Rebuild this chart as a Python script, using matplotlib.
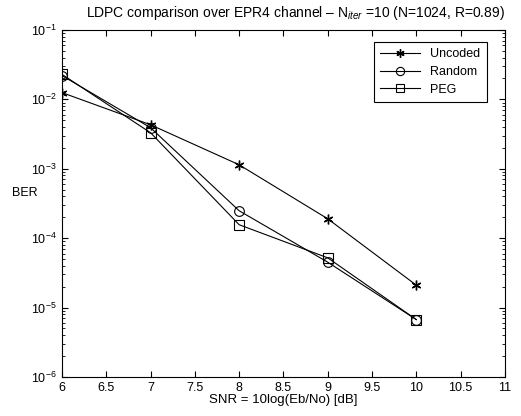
import matplotlib
matplotlib.use("Agg")
import matplotlib.pyplot as plt
from matplotlib.ticker import LogLocator, NullFormatter, MultipleLocator

plt.rcParams['font.family'] = ['Liberation Sans', 'DejaVu Sans']
plt.rcParams['mathtext.fontset'] = 'custom'
plt.rcParams['mathtext.rm'] = 'Liberation Sans'
plt.rcParams['mathtext.it'] = 'Liberation Sans:italic'
plt.rcParams['font.size'] = 9

snr = [6, 7, 8, 9, 10]
uncoded = [1.25e-2, 4.3e-3, 1.14e-3, 1.9e-4, 2.1e-5]
random_ = [2.2e-2, 3.9e-3, 2.48e-4, 4.5e-5, 6.7e-6]
peg = [2.29e-2, 3.3e-3, 1.56e-4, 5.2e-5, 6.7e-6]
labels = ['Uncoded', 'Random', 'PEG']

fig = plt.figure(figsize=(5.21, 4.16), dpi=100)
ax = fig.add_axes([0.119, 0.094, 0.850, 0.834])

ax.semilogy(snr, uncoded, '-', marker=(6, 2, 0), color='k', lw=0.8, ms=7, mew=1.0, label=labels[0])
ax.semilogy(snr, random_, '-o', color='k', lw=0.8, ms=7, mfc='none', mew=0.8, label=labels[1])
ax.semilogy(snr, peg, '-s', color='k', lw=0.8, ms=7, mfc='none', mew=0.8, label=labels[2])

ax.set_xlim(6, 11)
ax.set_ylim(1e-6, 1e-1)
ax.xaxis.set_major_locator(MultipleLocator(0.5))
ax.set_xticklabels([f'{v:g}' for v in ax.get_xticks()])
ax.yaxis.set_major_locator(LogLocator(base=10, numticks=10))
ax.yaxis.set_minor_locator(LogLocator(base=10, subs=range(2, 10), numticks=20))
ax.yaxis.set_minor_formatter(NullFormatter())
ax.tick_params(which='both', direction='in', top=True, right=True, labelsize=9)
ax.tick_params(which='major', length=4, pad=4)
ax.tick_params(which='minor', length=2)
for s in ax.spines.values():
    s.set_linewidth(0.8)

ax.set_xlabel('SNR = 10log(Eb/No) [dB]', fontsize=9.5, labelpad=0)
ax.set_ylabel('BER', fontsize=9, rotation=0, va='center', ha='center')
ax.yaxis.set_label_coords(-0.084, 0.53)
ax.set_title(r'LDPC comparison over EPR4 channel – N$_{iter}$ =10 (N=1024, R=0.89)',
             fontsize=10, pad=9, x=0.528)

leg = ax.legend(loc='upper right', bbox_to_anchor=(0.959, 0.965), borderaxespad=0,
                fancybox=False, edgecolor='k', framealpha=1,
                fontsize=9, handlelength=3.2, markerscale=0.85,
                labelspacing=0.45, borderpad=0.5)
leg.get_frame().set_linewidth(0.8)

fig.savefig('out.png', dpi=100)
